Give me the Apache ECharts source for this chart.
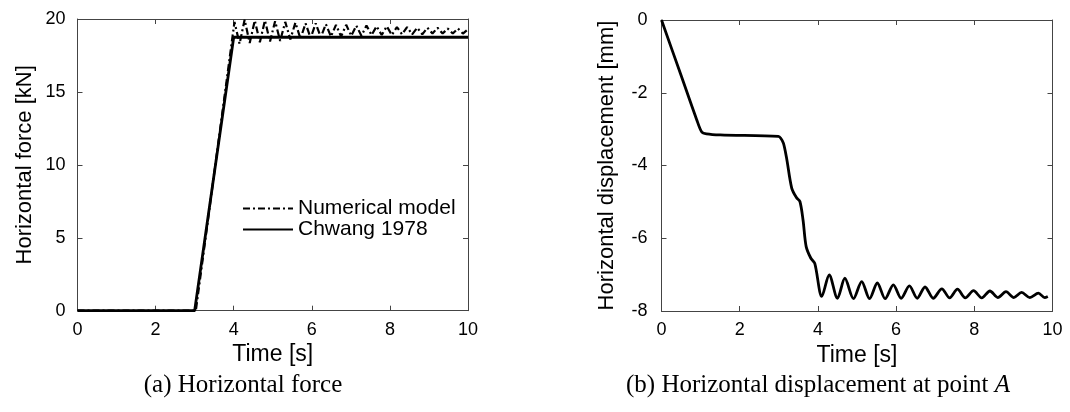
<!DOCTYPE html>
<html>
<head>
<meta charset="utf-8">
<script src="https://cdn.jsdelivr.net/npm/echarts@6/dist/echarts.min.js"></script>
<style>
html,body{margin:0;padding:0;background:#fff;}
#c{width:1070px;height:412px;}
</style>
</head>
<body>
<div id="c"></div>
<script>
// ---- Data ----
var forceTicksX = [0, 2, 4, 6, 8, 10];
var forceTicksY = [0, 5, 10, 15, 20];
var dispTicksY = [0, -2, -4, -6, -8];

var numTime = [0, 3.03, 4.02, 4.15, 4.28, 4.41, 4.54, 4.67, 4.80, 4.93, 5.06, 5.19, 5.32, 5.45, 5.58, 5.71, 5.84, 5.97, 6.10, 6.23, 6.36, 6.49, 6.62, 6.75, 6.88, 7.01, 7.14, 7.27, 7.40, 7.53, 7.66, 7.79, 7.92, 8.05, 8.18, 8.31, 8.44, 8.57, 8.70, 8.83, 8.96, 9.09, 9.22, 9.35, 9.48, 9.61, 9.74, 9.87, 10.0];
var numForce = [0, 0, 19.8, 18.3, 19.95, 18.35, 19.9, 18.4, 19.9, 18.45, 19.85, 18.5, 19.8, 18.6, 19.75, 18.65, 19.7, 18.7, 19.7, 18.75, 19.65, 18.8, 19.6, 18.8, 19.6, 18.85, 19.55, 18.85, 19.55, 18.9, 19.5, 18.9, 19.5, 18.9, 19.45, 18.95, 19.45, 18.95, 19.4, 18.95, 19.4, 19.0, 19.4, 19.0, 19.35, 19.0, 19.35, 19.0, 19.3];

var chwTime = [0, 3, 4, 10];
var chwForce = [0, 0, 18.75, 18.75];

var dispTime = [0, 0.5, 0.9, 1.03, 1.15, 1.5, 2.99, 3.05, 3.12, 3.2, 3.33, 3.45, 3.54, 3.62, 3.70, 3.82, 3.92, 4.10, 4.29, 4.50, 4.69, 4.91, 5.12, 5.32, 5.52, 5.72, 5.93, 6.13, 6.34, 6.54, 6.74, 6.95, 7.17, 7.37, 7.57, 7.77, 7.98, 8.19, 8.40, 8.60, 8.81, 9.01, 9.21, 9.42, 9.64, 9.80, 9.88];
var dispVal = [0, -1.52, -2.74, -3.08, -3.13, -3.16, -3.20, -3.25, -3.39, -3.8, -4.62, -4.88, -4.99, -5.5, -6.23, -6.55, -6.69, -7.60, -7.01, -7.65, -7.10, -7.66, -7.19, -7.66, -7.23, -7.66, -7.28, -7.65, -7.31, -7.65, -7.34, -7.65, -7.39, -7.64, -7.40, -7.64, -7.44, -7.64, -7.45, -7.63, -7.47, -7.63, -7.49, -7.63, -7.51, -7.63, -7.60];

function zip(a, b) { return a.map(function (v, i) { return [v, b[i]]; }); }

var FONT = 'Liberation Sans, Arial, sans-serif';
var SERIF = 'Liberation Serif, Times New Roman, serif';
var FRAME = '#444';

function xAxisPair(gi) {
  var base = {
    gridIndex: gi, type: 'value', min: 0, max: 10, interval: 2,
    splitLine: { show: false },
    axisLine: { show: true, onZero: false, lineStyle: { color: FRAME, width: 1 } },
    axisTick: { show: true, inside: true, length: 5, lineStyle: { color: FRAME } }
  };
  var bottom = Object.assign({}, base, {
    position: 'bottom',
    axisLabel: { show: true, color: '#000', fontSize: 18, fontFamily: FONT, margin: 10 },
    name: 'Time [s]', nameLocation: 'middle', nameGap: 30,
    nameTextStyle: { color: '#000', fontSize: 23, fontFamily: FONT }
  });
  var top = Object.assign({}, base, { position: 'top', axisLabel: { show: false } });
  return [bottom, top];
}

function yAxisPair(gi, min, max, interval, name, gap, margin) {
  var base = {
    gridIndex: gi, type: 'value', min: min, max: max, interval: interval,
    splitLine: { show: false },
    axisLine: { show: true, onZero: false, lineStyle: { color: FRAME, width: 1 } },
    axisTick: { show: true, inside: true, length: 5, lineStyle: { color: FRAME } }
  };
  var left = Object.assign({}, base, {
    position: 'left',
    axisLabel: { show: true, color: '#000', fontSize: 18, fontFamily: FONT, margin: margin },
    name: name, nameLocation: 'middle', nameGap: gap,
    nameTextStyle: { color: '#000', fontSize: 22, fontFamily: FONT }
  });
  var right = Object.assign({}, base, { position: 'right', axisLabel: { show: false } });
  return [left, right];
}

var xa = xAxisPair(0).concat(xAxisPair(1));
var ya = yAxisPair(0, 0, 20, 5, 'Horizontal force [kN]', 42, 12)
  .concat(yAxisPair(1, -8, 0, 2, 'Horizontal displacement [mm]', 44, 14));

var chart = echarts.init(document.getElementById('c'), null, { renderer: 'canvas' });
chart.setOption({
  animation: false,
  backgroundColor: '#fff',
  grid: [
    { left: 77.5, top: 19, width: 390.5, height: 291.7, show: false },
    { left: 661.5, top: 20, width: 391, height: 291, show: false }
  ],
  xAxis: xa,
  yAxis: ya,
  legend: {
    left: 237, top: 193, orient: 'vertical',
    itemWidth: 50, itemHeight: 14, itemGap: 0,
    itemStyle: { opacity: 0 },
    textStyle: { color: '#000', fontSize: 21, fontFamily: FONT, lineHeight: 21 },
    data: ['Numerical model', 'Chwang 1978']
  },
  series: [
    {
      name: 'Numerical model', type: 'line', xAxisIndex: 0, yAxisIndex: 0,
      data: zip(numTime, numForce), symbol: 'none',
      lineStyle: { color: '#000', width: 2.2, type: [7, 3, 2, 3] },
      itemStyle: { color: '#000' }, z: 2
    },
    {
      name: 'Chwang 1978', type: 'line', xAxisIndex: 0, yAxisIndex: 0,
      data: zip(chwTime, chwForce), symbol: 'none',
      lineStyle: { color: '#000', width: 2.8, type: 'solid' },
      itemStyle: { color: '#000' }, z: 3
    },
    {
      name: 'Displacement', type: 'line', xAxisIndex: 2, yAxisIndex: 2,
      data: zip(dispTime, dispVal), symbol: 'none', smooth: 0.3,
      lineStyle: { color: '#000', width: 2.8 },
      itemStyle: { color: '#000' }, z: 3
    }
  ],
  graphic: [
    {
      type: 'text', x: 243, y: 385,
      style: { text: '(a) Horizontal force', fill: '#000', font: '25px ' + SERIF, textAlign: 'center', textVerticalAlign: 'middle' }
    },
    {
      type: 'text', x: 818, y: 385,
      style: {
        text: '{n|(b) Horizontal displacement at point }{i|A}',
        textAlign: 'center', textVerticalAlign: 'middle',
        rich: {
          n: { fontSize: 25, fontFamily: SERIF, fill: '#000', color: '#000' },
          i: { fontSize: 25, fontFamily: SERIF, fontStyle: 'italic', fill: '#000', color: '#000' }
        }
      }
    }
  ]
});
</script>
</body>
</html>
